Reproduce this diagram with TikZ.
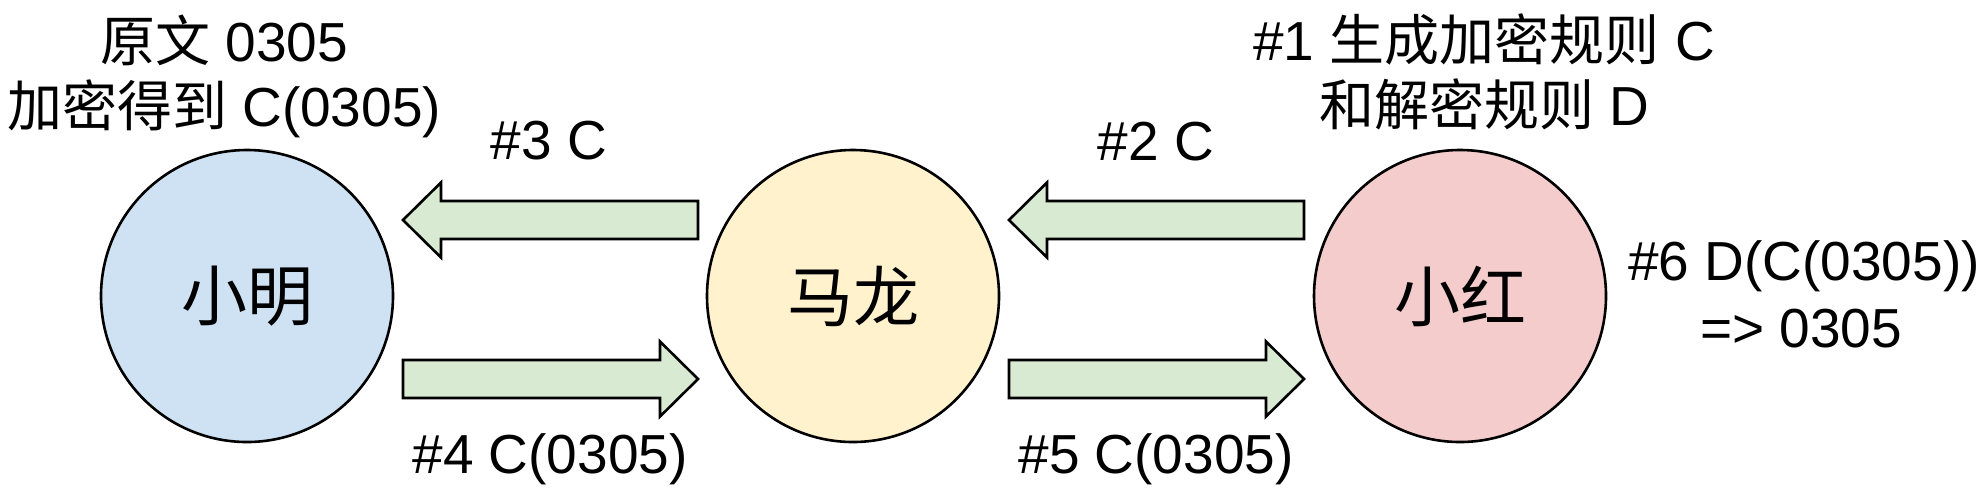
\documentclass[tikz,border=0pt]{standalone}
\usepackage{fontspec}
\setmainfont{Liberation Sans}
\newfontfamily\cjk{Noto Sans CJK SC}
\usetikzlibrary{calc}
\definecolor{cblue}{HTML}{CFE2F3}
\definecolor{cyellow}{HTML}{FFF2CC}
\definecolor{cred}{HTML}{F4CCCC}
\definecolor{cgreen}{HTML}{D9EAD3}
\tikzset{
  person/.style={circle, draw=black, line width=1.3pt, minimum size=146pt, inner sep=0pt, font=\fontsize{33}{40}\selectfont\cjk},
  lbl/.style={anchor=base, inner sep=0pt, font=\fontsize{27.5}{33}\selectfont},
  barrow/.style={draw=black, fill=cgreen, line width=1.3pt, line join=miter}
}
\newcommand\blockarrow[2]{%
  \draw[barrow] let \p1=(#1), \p2=(#2), \n1={sign(\x2-\x1)} in
    (\x1,\y1+9.5pt) -- (\x2-\n1*19pt,\y1+9.5pt) -- (\x2-\n1*19pt,\y1+18.75pt)
    -- (\x2,\y1) -- (\x2-\n1*19pt,\y1-18.75pt) -- (\x2-\n1*19pt,\y1-9.5pt)
    -- (\x1,\y1-9.5pt) -- cycle;}
\begin{document}
\begin{tikzpicture}[x=0.5pt, y=-0.5pt]
\useasboundingbox (0,0) rectangle (1984,500);
% people
\node[person, fill=cblue]   (ming) at (247,296) {小明};
\node[person, fill=cyellow] (long) at (853,296) {马龙};
\node[person, fill=cred]    (hong) at (1460,296) {小红};
% arrow ends
\coordinate (a3s) at (698,220); \coordinate (a3e) at (403,220);
\coordinate (a4s) at (403,379); \coordinate (a4e) at (698,379);
\coordinate (a2s) at (1304,220); \coordinate (a2e) at (1009,220);
\coordinate (a5s) at (1009,379); \coordinate (a5e) at (1304,379);
\blockarrow{a3s}{a3e}
\blockarrow{a4s}{a4e}
\blockarrow{a2s}{a2e}
\blockarrow{a5s}{a5e}
% labels
\node[lbl] (ta) at (224,61) {{\cjk 原文} 0305};
\node[lbl] (tb) at (224,126) {{\cjk 加密得到} C(0305)};
\node[lbl] (ra) at (1484,60) {\#1 {\cjk 生成加密规则} C};
\node[lbl] (rb) at (1484,125) {{\cjk 和解密规则} D};
\node[lbl] (sa) at (1804,280) {\#6 D(C(0305))};
\node[lbl] (sb) at (1801,347) {=> 0305};
\node[lbl] (l3) at (549,159) {\#3 C};
\node[lbl] (l2) at (1156,160) {\#2 C};
\node[lbl] (l4) at (550,473) {\#4 C(0305)};
\node[lbl] (l5) at (1156,473) {\#5 C(0305)};
\end{tikzpicture}
\end{document}
